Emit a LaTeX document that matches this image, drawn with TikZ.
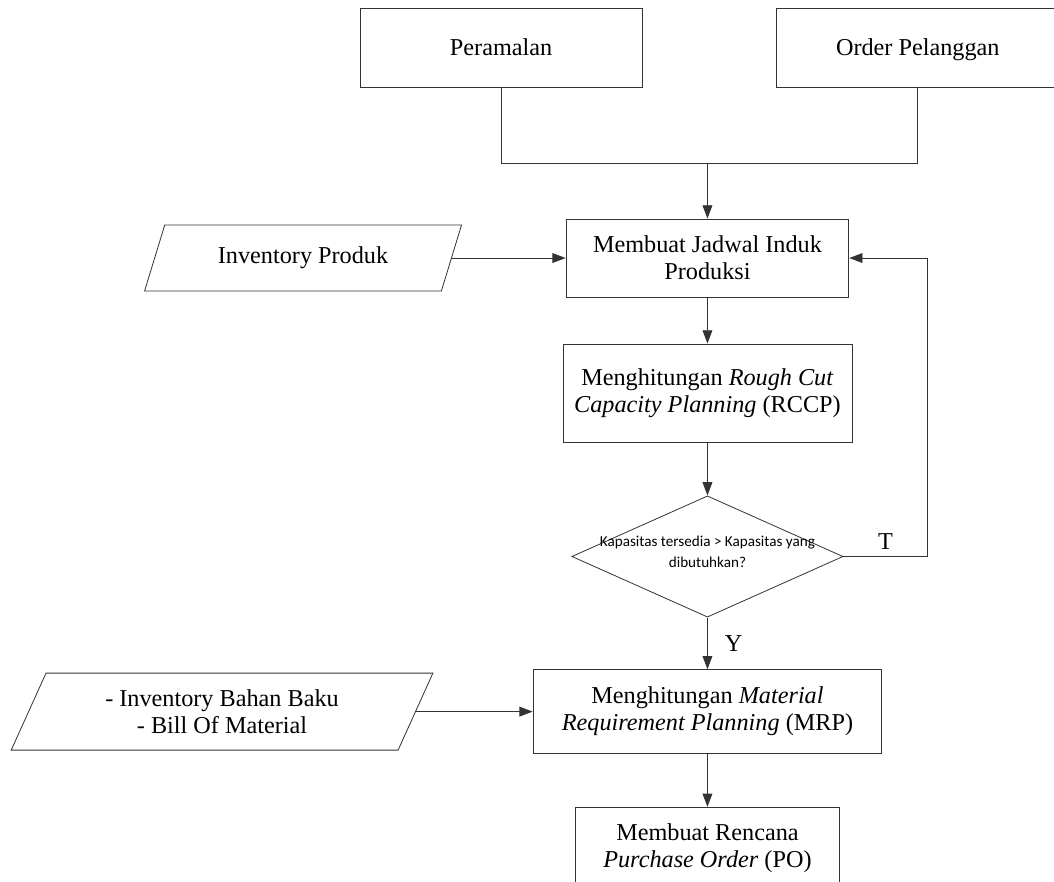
\documentclass[tikz,border=0pt]{standalone}
\usepackage{fontspec}
\setmainfont{Liberation Serif}
\newfontfamily\calibri{Carlito}
\usepackage{tikz}
\usetikzlibrary{arrows.meta,positioning,shapes.geometric,calc}
\tikzset{
  >={Triangle[length=2.3mm, width=1.7mm]},
  every node/.style={font=\fontsize{12}{13.4}\selectfont},
  proses/.style={draw=black!80, thin, align=center, inner sep=1pt},
  data/.style={draw=black!80, thin, trapezium, trapezium left angle=64, trapezium right angle=116,
    trapezium stretches=true, align=center, inner sep=1pt},
  keputusan/.style={draw=black!80, thin, diamond, inner sep=0pt},
  garis/.style={draw=black!80, thin},
}

\begin{document}
\begin{tikzpicture}[node distance=9mm]
  \useasboundingbox (-123.1mm,44.9mm) rectangle (60.3mm,-108.4mm);
  \clip (-123.1mm,44.9mm) rectangle (60.3mm,-108.4mm);

  \node[proses, minimum width=49.2mm, minimum height=13.6mm] (jadwal) at (0,0) {Membuat Jadwal Induk\\Produksi};

  \node[proses, minimum width=49.1mm, minimum height=13.7mm, text height=2.2ex, text depth=0.5ex, above=22.8mm of jadwal, xshift=-35.9mm] (ramal) {Peramalan};
  \node[proses, minimum width=49.1mm, minimum height=13.7mm, text height=2.2ex, text depth=0.5ex, above=22.8mm of jadwal, xshift=36.6mm] (order) {Order Pelanggan};

  \node[data, minimum width=55.2mm, minimum height=11.5mm, left=19.8mm of jadwal] (invprod) {Inventory Produk};

  \node[proses, minimum width=50.3mm, minimum height=17.1mm, below=8mm of jadwal] (rccp) {Menghitungan \textit{Rough Cut}\\\textit{Capacity Planning} (RCCP)};

  \node[keputusan, minimum width=47.2mm, minimum height=21.1mm, below=9.2mm of rccp] (cek) {};
  \node[font=\calibri\fontsize{7.5}{10.2}\selectfont, align=center, yshift=0.8mm] (cekteks) at (cek) {Kapasitas tersedia > Kapasitas yang\\dibutuhkan?};

  \node[proses, minimum width=60.7mm, minimum height=14.6mm, below=9mm of cek] (mrp) {Menghitungan \textit{Material}\\\textit{Requirement Planning} (MRP)};

  \node[data, minimum width=73.4mm, minimum height=13.4mm, left=20.3mm of mrp] (bahan) {- Inventory Bahan Baku\\- Bill Of Material};

  \node[proses, minimum width=45.8mm, minimum height=14.3mm, below=9.2mm of mrp] (po) {Membuat Rencana\\\textit{Purchase Order} (PO)};

  \draw[garis] (ramal.south) -- ++(0,-13.2mm) coordinate (gabung) -| (order.south);
  \draw[garis, ->] (gabung -| jadwal.north) -- (jadwal.north);
  \draw[garis, ->] (invprod.east) -- (jadwal.west);
  \draw[garis, ->] (jadwal) -- (rccp);
  \draw[garis, ->] (rccp) -- (cek);
  \draw[garis, ->] (cek.east) -- node[above] {T} ++(14.6mm,0) |- (jadwal.east);
  \draw[garis, ->] (cek.south) -- node[right, xshift=1.8mm] {Y} (mrp.north);
  \draw[garis, ->] (bahan.east) -- (mrp.west);
  \draw[garis, ->] (mrp) -- (po);
\end{tikzpicture}
\end{document}
